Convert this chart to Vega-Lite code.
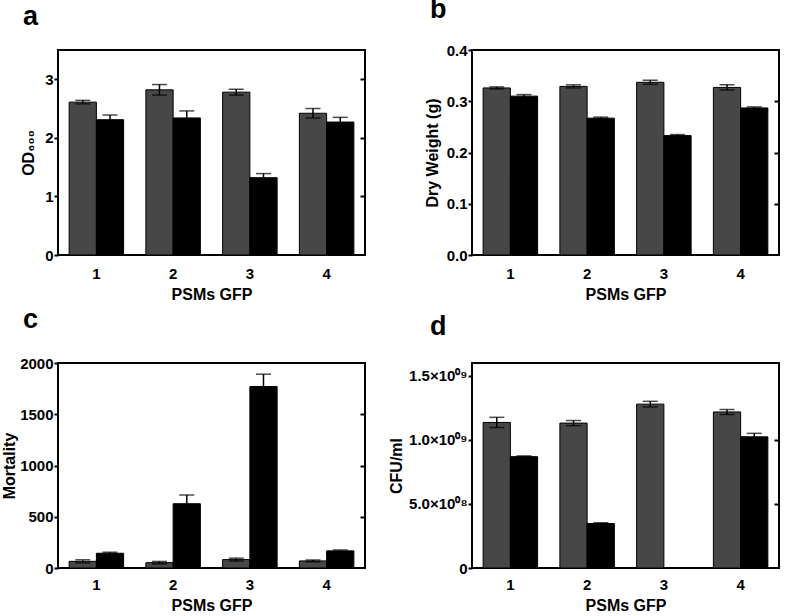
{
  "$schema": "https://vega.github.io/schema/vega-lite/v6.json",
  "padding": {"left": 0, "top": -5, "right": 3, "bottom": 3},
  "background": "white",
  "columns": 2,
  "spacing": {"row": 2, "column": 20},
  "datasets": {
    "bars": [
      {"panel": "a", "psm": "1", "cond": "ctrl", "value": 2.61, "err": 0.03},
      {"panel": "a", "psm": "1", "cond": "treat", "value": 2.31, "err": 0.08},
      {"panel": "a", "psm": "2", "cond": "ctrl", "value": 2.82, "err": 0.09},
      {"panel": "a", "psm": "2", "cond": "treat", "value": 2.34, "err": 0.12},
      {"panel": "a", "psm": "3", "cond": "ctrl", "value": 2.78, "err": 0.05},
      {"panel": "a", "psm": "3", "cond": "treat", "value": 1.32, "err": 0.07},
      {"panel": "a", "psm": "4", "cond": "ctrl", "value": 2.42, "err": 0.08},
      {"panel": "a", "psm": "4", "cond": "treat", "value": 2.27, "err": 0.08},
      {"panel": "b", "psm": "1", "cond": "ctrl", "value": 0.326, "err": 0.002},
      {"panel": "b", "psm": "1", "cond": "treat", "value": 0.310, "err": 0.003},
      {"panel": "b", "psm": "2", "cond": "ctrl", "value": 0.329, "err": 0.003},
      {"panel": "b", "psm": "2", "cond": "treat", "value": 0.267, "err": 0.002},
      {"panel": "b", "psm": "3", "cond": "ctrl", "value": 0.337, "err": 0.004},
      {"panel": "b", "psm": "3", "cond": "treat", "value": 0.233, "err": 0.002},
      {"panel": "b", "psm": "4", "cond": "ctrl", "value": 0.327, "err": 0.005},
      {"panel": "b", "psm": "4", "cond": "treat", "value": 0.287, "err": 0.002},
      {"panel": "c", "psm": "1", "cond": "ctrl", "value": 65, "err": 15},
      {"panel": "c", "psm": "1", "cond": "treat", "value": 144, "err": 10},
      {"panel": "c", "psm": "2", "cond": "ctrl", "value": 52, "err": 12},
      {"panel": "c", "psm": "2", "cond": "treat", "value": 627, "err": 85},
      {"panel": "c", "psm": "3", "cond": "ctrl", "value": 82, "err": 14},
      {"panel": "c", "psm": "3", "cond": "treat", "value": 1771, "err": 120},
      {"panel": "c", "psm": "4", "cond": "ctrl", "value": 69, "err": 8},
      {"panel": "c", "psm": "4", "cond": "treat", "value": 167, "err": 9},
      {"panel": "d", "psm": "1", "cond": "ctrl", "value": 1136000000, "err": 40000000},
      {"panel": "d", "psm": "1", "cond": "treat", "value": 869000000, "err": 6000000},
      {"panel": "d", "psm": "2", "cond": "ctrl", "value": 1131000000, "err": 20000000},
      {"panel": "d", "psm": "2", "cond": "treat", "value": 347000000, "err": 6000000},
      {"panel": "d", "psm": "3", "cond": "ctrl", "value": 1279000000, "err": 22000000},
      {"panel": "d", "psm": "3", "cond": "treat", "value": 2000000, "err": 0},
      {"panel": "d", "psm": "4", "cond": "ctrl", "value": 1218000000, "err": 20000000},
      {"panel": "d", "psm": "4", "cond": "treat", "value": 1024000000, "err": 27000000}
    ]
  },
  "data": {"name": "bars"},
  "concat": [
    {
      "title": {"text": "a", "dx": -35, "offset": 19},
      "width": 307, "height": 205,
      "transform": [{"filter": "datum.panel === 'a'"}],
      "encoding": {
        "x": {"field": "psm", "type": "nominal", "scale": {"paddingInner": 0.29, "paddingOuter": 0.145}, "axis": {"title": "PSMs GFP", "labelAngle": 0, "ticks": false, "labelPadding": 11, "titlePadding": 5}},
        "xOffset": {"field": "cond", "type": "nominal", "scale": {"domain": ["ctrl", "treat"], "paddingInner": 0, "paddingOuter": 0}}
      },
      "layer": [
        {"mark": {"type": "bar", "stroke": "black", "strokeWidth": 1},
         "encoding": {
           "y": {"field": "value", "type": "quantitative", "scale": {"domain": [0, 3.5]}, "axis": {"title": "OD₆₀₀", "values": [0, 1, 2, 3], "titlePadding": 8}},
           "color": {"field": "cond", "type": "nominal", "scale": {"domain": ["ctrl", "treat"], "range": ["#474747", "#000000"]}, "legend": null}}},
        {"mark": {"type": "errorbar", "color": "black", "ticks": {"size": 15, "thickness": 1.5}, "rule": {"strokeWidth": 1.5}},
         "encoding": {
           "y": {"field": "value", "type": "quantitative", "axis": {"orient": "right", "title": null, "labels": false, "tickSize": -5, "values": [1, 2, 3]}},
           "yError": {"field": "err"}}}
      ],
      "resolve": {"axis": {"y": "independent"}}
    },
    {
      "title": {"text": "b", "dx": -42, "offset": 19},
      "width": 307, "height": 205,
      "transform": [{"filter": "datum.panel === 'b'"}],
      "encoding": {
        "x": {"field": "psm", "type": "nominal", "scale": {"paddingInner": 0.29, "paddingOuter": 0.145}, "axis": {"title": "PSMs GFP", "labelAngle": 0, "ticks": false, "labelPadding": 11, "titlePadding": 5}},
        "xOffset": {"field": "cond", "type": "nominal", "scale": {"domain": ["ctrl", "treat"], "paddingInner": 0, "paddingOuter": 0}}
      },
      "layer": [
        {"mark": {"type": "bar", "stroke": "black", "strokeWidth": 1},
         "encoding": {
           "y": {"field": "value", "type": "quantitative", "scale": {"domain": [0, 0.4]}, "axis": {"title": "Dry Weight (g)", "values": [0, 0.1, 0.2, 0.3, 0.4], "format": ".1f", "titlePadding": 6}},
           "color": {"field": "cond", "type": "nominal", "scale": {"domain": ["ctrl", "treat"], "range": ["#474747", "#000000"]}, "legend": null}}},
        {"mark": {"type": "errorbar", "color": "black", "ticks": {"size": 15, "thickness": 1.5}, "rule": {"strokeWidth": 1.5}},
         "encoding": {
           "y": {"field": "value", "type": "quantitative", "axis": {"orient": "right", "title": null, "labels": false, "tickSize": -5, "values": [0.1, 0.2, 0.3]}},
           "yError": {"field": "err"}}}
      ],
      "resolve": {"axis": {"y": "independent"}}
    },
    {
      "title": {"text": "c", "dx": -35, "offset": 22},
      "width": 307, "height": 205,
      "transform": [{"filter": "datum.panel === 'c'"}],
      "encoding": {
        "x": {"field": "psm", "type": "nominal", "scale": {"paddingInner": 0.29, "paddingOuter": 0.145}, "axis": {"title": "PSMs GFP", "labelAngle": 0, "ticks": false, "labelPadding": 9, "titlePadding": 5}},
        "xOffset": {"field": "cond", "type": "nominal", "scale": {"domain": ["ctrl", "treat"], "paddingInner": 0, "paddingOuter": 0}}
      },
      "layer": [
        {"mark": {"type": "bar", "stroke": "black", "strokeWidth": 1},
         "encoding": {
           "y": {"field": "value", "type": "quantitative", "scale": {"domain": [0, 2000]}, "axis": {"title": "Mortality", "values": [0, 500, 1000, 1500, 2000], "format": "d", "titlePadding": 2}},
           "color": {"field": "cond", "type": "nominal", "scale": {"domain": ["ctrl", "treat"], "range": ["#474747", "#000000"]}, "legend": null}}},
        {"mark": {"type": "errorbar", "color": "black", "ticks": {"size": 15, "thickness": 1.5}, "rule": {"strokeWidth": 1.5}},
         "encoding": {
           "y": {"field": "value", "type": "quantitative", "axis": {"orient": "right", "title": null, "labels": false, "tickSize": -5, "values": [500, 1000, 1500]}},
           "yError": {"field": "err"}}}
      ],
      "resolve": {"axis": {"y": "independent"}}
    },
    {
      "title": {"text": "d", "dx": -42, "offset": 22},
      "width": 307, "height": 205,
      "transform": [{"filter": "datum.panel === 'd'"}],
      "encoding": {
        "x": {"field": "psm", "type": "nominal", "scale": {"paddingInner": 0.29, "paddingOuter": 0.145}, "axis": {"title": "PSMs GFP", "labelAngle": 0, "ticks": false, "labelPadding": 9, "titlePadding": 5}},
        "xOffset": {"field": "cond", "type": "nominal", "scale": {"domain": ["ctrl", "treat"], "paddingInner": 0, "paddingOuter": 0}}
      },
      "layer": [
        {"mark": {"type": "bar", "stroke": "black", "strokeWidth": 1},
         "encoding": {
           "y": {"field": "value", "type": "quantitative", "scale": {"domain": [0, 1500000000]}, "axis": {"title": "CFU/ml", "values": [0, 500000000, 1000000000, 1500000000], "labelExpr": "datum.value == 0 ? '0' : datum.value == 500000000 ? '5.0×10⁰⁸' : datum.value == 1000000000 ? '1.0×10⁰⁹' : '1.5×10⁰⁹'", "titlePadding": 4}},
           "color": {"field": "cond", "type": "nominal", "scale": {"domain": ["ctrl", "treat"], "range": ["#474747", "#000000"]}, "legend": null}}},
        {"mark": {"type": "errorbar", "color": "black", "ticks": {"size": 15, "thickness": 1.5}, "rule": {"strokeWidth": 1.5}},
         "encoding": {
           "y": {"field": "value", "type": "quantitative", "axis": {"orient": "right", "title": null, "labels": false, "tickSize": -5, "values": [500000000, 1000000000]}},
           "yError": {"field": "err"}}}
      ],
      "resolve": {"axis": {"y": "independent"}}
    }
  ],
  "config": {
    "font": "Liberation Sans",
    "view": {"stroke": "black", "strokeWidth": 2},
    "axis": {
      "labelFont": "Liberation Sans", "labelFontWeight": "bold", "labelFontSize": 15, "labelColor": "black",
      "titleFont": "Liberation Sans", "titleFontWeight": "bold", "titleFontSize": 16, "titleColor": "black",
      "domain": false, "grid": false, "tickColor": "black", "tickWidth": 2, "tickSize": 4, "labelPadding": 1
    },
    "title": {"font": "Liberation Sans", "fontSize": 27, "fontWeight": "bold", "color": "black", "anchor": "start", "frame": "group", "baseline": "top"}
  }
}
